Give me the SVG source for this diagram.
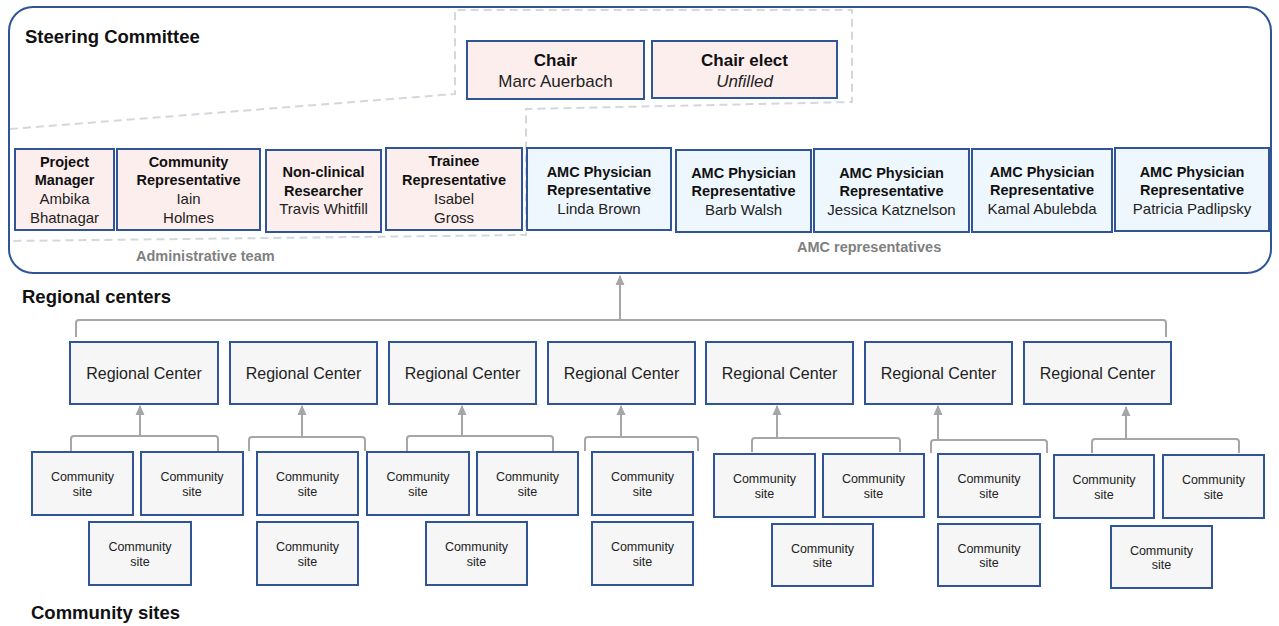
<svg xmlns="http://www.w3.org/2000/svg" width="1279" height="626" viewBox="0 0 1279 626">
<style>
text{font-family:"Liberation Sans",Arial,sans-serif;fill:#111;text-anchor:middle}
.hd{font-size:18.5px;font-weight:bold;text-anchor:start}
.grp{font-size:14.5px;font-weight:bold;fill:#808080;text-anchor:start}
.box{stroke:#2f5597;stroke-width:2}
.pink{fill:#fdeeee}
.blue{fill:#eef7fd}
.gray{fill:#f6f6f6}
.t{font-size:14.5px;font-weight:bold}
.n{font-size:15px;fill:#222}
.ct{font-size:17px;font-weight:bold}
.cn{font-size:17px;fill:#222}
.rc{font-size:16px;fill:#222}
.cs{font-size:12.5px;fill:#222}
.conn{fill:none;stroke:#a6a6a6;stroke-width:2}
.dash{fill:none;stroke:#d3d7de;stroke-width:2;stroke-dasharray:8 5}
</style>
<defs>
<marker id="arr" markerWidth="10" markerHeight="10" refX="9" refY="5" orient="auto" markerUnits="userSpaceOnUse">
<path d="M0,0.5 L10,5 L0,9.5 Z" fill="#a6a6a6"/>
</marker>
</defs>
<rect width="1279" height="626" fill="#fff"/>

<g id="steering-committee">
<rect x="9" y="7" width="1262" height="266" rx="24" ry="24" fill="none" stroke="#2f5597" stroke-width="2"/>
<text class="hd" x="25" y="43">Steering Committee</text>
<polyline class="dash" points="10,129 455,94 455,10 852,10 852,102 526,109 526,235 10,241"/>
<text class="grp" x="136" y="261">Administrative team</text>
<text class="grp" x="797" y="252">AMC representatives</text>
</g>

<g id="chair">
<rect class="box pink" x="467" y="41" width="177" height="58"/>
<text class="ct" x="555.5" y="66">Chair</text>
<text class="cn" x="555.5" y="87">Marc Auerbach</text>
</g>
<g id="chair-elect">
<rect class="box pink" x="652" y="41" width="185" height="57"/>
<text class="ct" x="744.5" y="66">Chair elect</text>
<text class="cn" x="744.5" y="87" font-style="italic">Unfilled</text>
</g>

<g id="project-manager">
<rect class="box pink" x="15" y="149" width="99" height="81"/>
<text class="t" x="64.5" y="167">Project</text>
<text class="t" x="64.5" y="185">Manager</text>
<text class="n" x="64.5" y="204">Ambika</text>
<text class="n" x="64.5" y="223">Bhatnagar</text>
</g>
<g id="community-representative">
<rect class="box pink" x="117" y="149" width="143" height="81"/>
<text class="t" x="188.5" y="167">Community</text>
<text class="t" x="188.5" y="185">Representative</text>
<text class="n" x="188.5" y="204">Iain</text>
<text class="n" x="188.5" y="223">Holmes</text>
</g>
<g id="non-clinical-researcher">
<rect class="box pink" x="266" y="150" width="115" height="82"/>
<text class="t" x="323.5" y="177">Non-clinical</text>
<text class="t" x="323.5" y="196">Researcher</text>
<text class="n" x="323.5" y="214">Travis Whitfill</text>
</g>
<g id="trainee-representative">
<rect class="box pink" x="386" y="148" width="136" height="82"/>
<text class="t" x="454" y="166">Trainee</text>
<text class="t" x="454" y="185">Representative</text>
<text class="n" x="454" y="204">Isabel</text>
<text class="n" x="454" y="223">Gross</text>
</g>
<g id="amc-linda-brown">
<rect class="box blue" x="527" y="148" width="144" height="82"/>
<text class="t" x="599" y="177">AMC Physician</text>
<text class="t" x="599" y="195">Representative</text>
<text class="n" x="599" y="214">Linda Brown</text>
</g>
<g id="amc-barb-walsh">
<rect class="box blue" x="676" y="150" width="135" height="82"/>
<text class="t" x="743.5" y="178">AMC Physician</text>
<text class="t" x="743.5" y="196">Representative</text>
<text class="n" x="743.5" y="215">Barb Walsh</text>
</g>
<g id="amc-jessica-katznelson">
<rect class="box blue" x="814" y="149" width="155" height="83"/>
<text class="t" x="891.5" y="178">AMC Physician</text>
<text class="t" x="891.5" y="196">Representative</text>
<text class="n" x="891.5" y="215">Jessica Katznelson</text>
</g>
<g id="amc-kamal-abulebda">
<rect class="box blue" x="972" y="149" width="140" height="83"/>
<text class="t" x="1042" y="177">AMC Physician</text>
<text class="t" x="1042" y="195">Representative</text>
<text class="n" x="1042" y="214">Kamal Abulebda</text>
</g>
<g id="amc-patricia-padlipsky">
<rect class="box blue" x="1115" y="148" width="154" height="83"/>
<text class="t" x="1192" y="177">AMC Physician</text>
<text class="t" x="1192" y="195">Representative</text>
<text class="n" x="1192" y="214">Patricia Padlipsky</text>
</g>

<g id="labels">
<text class="hd" x="22" y="303">Regional centers</text>
<text class="hd" x="31" y="619">Community sites</text>
</g>

<g id="connectors">
<path class="conn" d="M76,337 V323 Q76,320 79,320 H1163 Q1166,320 1166,323 V337"/>
<path class="conn" d="M620,320 V276" marker-end="url(#arr)"/>
<path class="conn" d="M71,451 V439 Q71,436 74,436 H215 Q218,436 218,439 V451"/>
<path class="conn" d="M140,436 V406" marker-end="url(#arr)"/>
<path class="conn" d="M249,451 V440 Q249,437 252,437 H362 Q365,437 365,440 V451"/>
<path class="conn" d="M302,437 V406" marker-end="url(#arr)"/>
<path class="conn" d="M407,451 V439 Q407,436 410,436 H550 Q553,436 553,439 V451"/>
<path class="conn" d="M462,436 V406" marker-end="url(#arr)"/>
<path class="conn" d="M585,451 V440 Q585,437 588,437 H695 Q698,437 698,440 V451"/>
<path class="conn" d="M621,437 V406" marker-end="url(#arr)"/>
<path class="conn" d="M752,452 V441 Q752,438 755,438 H897 Q900,438 900,441 V452"/>
<path class="conn" d="M777,438 V406" marker-end="url(#arr)"/>
<path class="conn" d="M931,453 V443 Q931,440 934,440 H1044 Q1047,440 1047,443 V453"/>
<path class="conn" d="M938,440 V406" marker-end="url(#arr)"/>
<path class="conn" d="M1092,453 V442 Q1092,439 1095,439 H1236 Q1239,439 1239,442 V453"/>
<path class="conn" d="M1126,439 V407" marker-end="url(#arr)"/>
</g>

<g id="rc1"><rect class="box gray" x="70" y="342" width="148" height="62"/><text class="rc" x="144" y="379">Regional Center</text></g>
<g id="rc2"><rect class="box gray" x="230" y="342" width="147" height="62"/><text class="rc" x="303.5" y="379">Regional Center</text></g>
<g id="rc3"><rect class="box gray" x="389" y="342" width="147" height="62"/><text class="rc" x="462.5" y="379">Regional Center</text></g>
<g id="rc4"><rect class="box gray" x="548" y="342" width="147" height="62"/><text class="rc" x="621.5" y="379">Regional Center</text></g>
<g id="rc5"><rect class="box gray" x="706" y="342" width="147" height="62"/><text class="rc" x="779.5" y="379">Regional Center</text></g>
<g id="rc6"><rect class="box gray" x="865" y="342" width="147" height="62"/><text class="rc" x="938.5" y="379">Regional Center</text></g>
<g id="rc7"><rect class="box gray" x="1024" y="342" width="147" height="62"/><text class="rc" x="1097.5" y="379">Regional Center</text></g>

<g id="cs1"><rect class="box gray" x="32" y="452" width="101" height="63"/><text class="cs" x="82.5" y="481">Community</text><text class="cs" x="82.5" y="495.5">site</text></g>
<g id="cs2"><rect class="box gray" x="141" y="452" width="102" height="63"/><text class="cs" x="192" y="481">Community</text><text class="cs" x="192" y="495.5">site</text></g>
<g id="cs3"><rect class="box gray" x="89" y="522" width="102" height="63"/><text class="cs" x="140" y="551">Community</text><text class="cs" x="140" y="565.5">site</text></g>
<g id="cs4"><rect class="box gray" x="257" y="452" width="101" height="63"/><text class="cs" x="307.5" y="481">Community</text><text class="cs" x="307.5" y="495.5">site</text></g>
<g id="cs5"><rect class="box gray" x="257" y="522" width="101" height="63"/><text class="cs" x="307.5" y="551">Community</text><text class="cs" x="307.5" y="565.5">site</text></g>
<g id="cs6"><rect class="box gray" x="367" y="452" width="102" height="63"/><text class="cs" x="418" y="481">Community</text><text class="cs" x="418" y="495.5">site</text></g>
<g id="cs7"><rect class="box gray" x="477" y="452" width="101" height="63"/><text class="cs" x="527.5" y="481">Community</text><text class="cs" x="527.5" y="495.5">site</text></g>
<g id="cs8"><rect class="box gray" x="426" y="522" width="101" height="63"/><text class="cs" x="476.5" y="551">Community</text><text class="cs" x="476.5" y="565.5">site</text></g>
<g id="cs9"><rect class="box gray" x="592" y="452" width="101" height="63"/><text class="cs" x="642.5" y="481">Community</text><text class="cs" x="642.5" y="495.5">site</text></g>
<g id="cs10"><rect class="box gray" x="592" y="522" width="101" height="63"/><text class="cs" x="642.5" y="551">Community</text><text class="cs" x="642.5" y="565.5">site</text></g>
<g id="cs11"><rect class="box gray" x="714" y="454" width="101" height="63"/><text class="cs" x="764.5" y="483">Community</text><text class="cs" x="764.5" y="497.5">site</text></g>
<g id="cs12"><rect class="box gray" x="823" y="454" width="101" height="63"/><text class="cs" x="873.5" y="483">Community</text><text class="cs" x="873.5" y="497.5">site</text></g>
<g id="cs13"><rect class="box gray" x="772" y="524" width="101" height="62"/><text class="cs" x="822.5" y="552.5">Community</text><text class="cs" x="822.5" y="567">site</text></g>
<g id="cs14"><rect class="box gray" x="938" y="454" width="102" height="63"/><text class="cs" x="989" y="483">Community</text><text class="cs" x="989" y="497.5">site</text></g>
<g id="cs15"><rect class="box gray" x="938" y="524" width="102" height="62"/><text class="cs" x="989" y="552.5">Community</text><text class="cs" x="989" y="567">site</text></g>
<g id="cs16"><rect class="box gray" x="1054" y="455" width="100" height="63"/><text class="cs" x="1104" y="484">Community</text><text class="cs" x="1104" y="498.5">site</text></g>
<g id="cs17"><rect class="box gray" x="1163" y="455" width="101" height="63"/><text class="cs" x="1213.5" y="484">Community</text><text class="cs" x="1213.5" y="498.5">site</text></g>
<g id="cs18"><rect class="box gray" x="1111" y="526" width="101" height="62"/><text class="cs" x="1161.5" y="554.5">Community</text><text class="cs" x="1161.5" y="569">site</text></g>
</svg>
